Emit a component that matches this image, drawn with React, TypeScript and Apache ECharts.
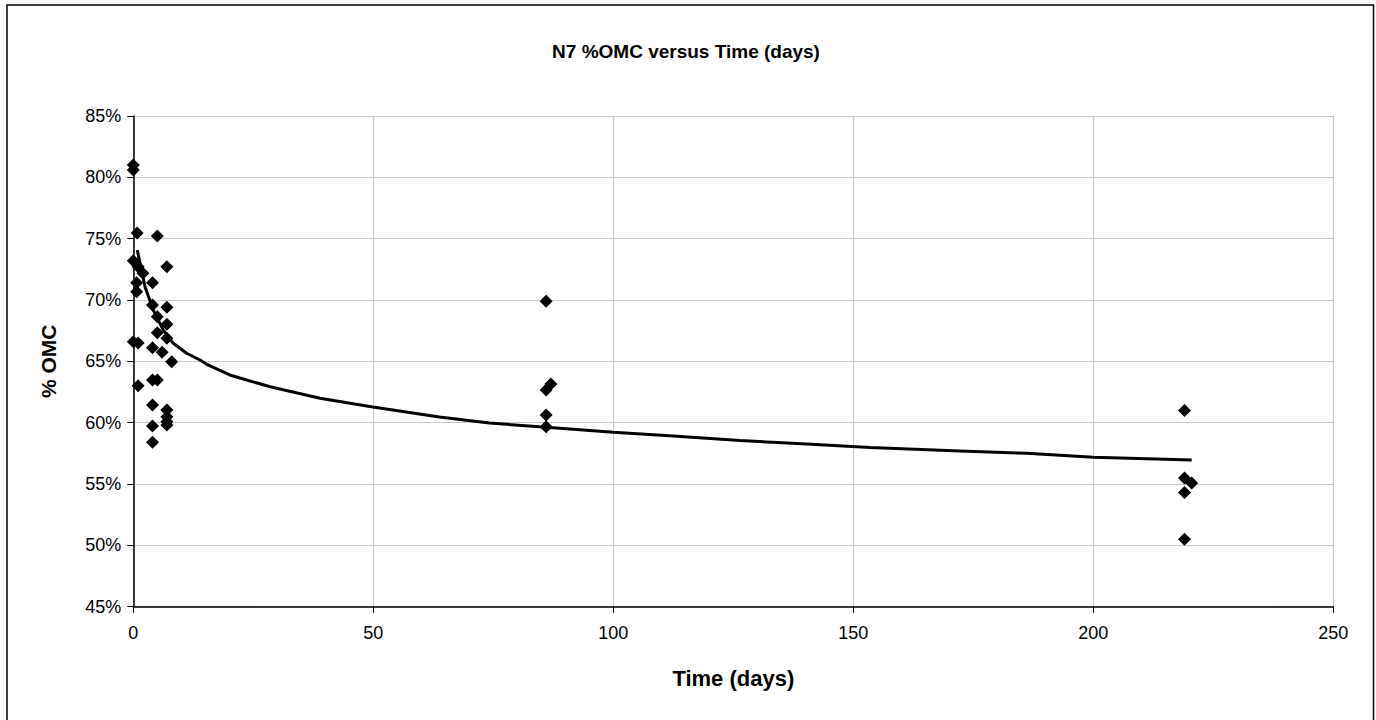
import React, { useEffect, useRef } from "react";
import * as echarts from "echarts";

// Measured points: time (days) and %OMC
const timeDays = [
  0, 0, 0.8, 5, 0, 1, 2, 7, 0.7, 4, 0.7, 4, 7, 5, 7, 5, 7, 0, 1, 4, 6, 8, 1, 4, 5, 4, 7, 7, 7, 7, 4, 4,
  86, 86, 87, 86, 86,
  219, 219, 220.5, 219, 219,
];
const omcPct = [
  81.0, 80.6, 75.46, 75.22, 73.2, 72.71, 72.18, 72.71, 71.41, 71.41, 70.68, 69.59, 69.4, 68.64, 68.02, 67.33,
  66.88, 66.6, 66.5, 66.11, 65.74, 64.97, 63.02, 63.48, 63.48, 61.44, 61.04, 60.49, 60.08, 59.81, 59.73, 58.4,
  69.9, 62.67, 63.16, 60.63, 59.67,
  61.0, 55.5, 55.08, 54.3, 50.5,
];

// Trend line
const fitX = [0.83, 2.44, 4.17, 6.25, 8.33, 11.1, 13.9, 15.3, 20.1, 23.6, 28.5, 38.9, 49.9, 63.75, 74.2, 84.6, 100, 112.5, 126.4, 140.3, 153.5, 172.2, 186.1, 200, 220.5];
const fitY = [74.07, 71.08, 69.18, 67.55, 66.47, 65.66, 65.11, 64.76, 63.89, 63.48, 62.93, 61.99, 61.28, 60.47, 59.98, 59.66, 59.22, 58.92, 58.54, 58.27, 57.97, 57.7, 57.5, 57.18, 56.96];

const xTicks = [0, 50, 100, 150, 200, 250];
const yTicksPct = [45, 50, 55, 60, 65, 70, 75, 80, 85];

const titleText = "N7 %OMC versus Time (days)";
const xName = "Time (days)";
const yName = "% OMC";

export default function App() {
  const ref = useRef<HTMLDivElement>(null);
  useEffect(() => {
    document.body.style.margin = "0";
    const chart = echarts.init(ref.current!, null, { renderer: "svg" });
    const font = "Liberation Sans, Arial, sans-serif";
    chart.setOption({
      animation: false,
      backgroundColor: "#ffffff",
      title: {
        text: titleText,
        left: 681,
        top: 37,
        textAlign: "center",
        textStyle: { fontFamily: font, fontSize: 19, fontWeight: "bold", color: "#000" },
      },
      grid: { left: 133.3, right: 42.7, top: 116, bottom: 113.3, show: false },
      xAxis: {
        type: "value",
        min: xTicks[0],
        max: xTicks[xTicks.length - 1],
        interval: 50,
        name: xName,
        nameLocation: "middle",
        nameGap: 61,
        nameTextStyle: { fontFamily: font, fontSize: 22, fontWeight: "bold", color: "#000" },
        axisLine: { show: true, onZero: false, lineStyle: { color: "#000", width: 1.5 } },
        axisTick: { show: true, inside: false, length: 6, lineStyle: { color: "#000" } },
        axisLabel: { fontFamily: font, fontSize: 18, color: "#000", margin: 17 },
        splitLine: { show: true, lineStyle: { color: "#c8c8c8", width: 1 } },
      },
      yAxis: {
        type: "value",
        min: yTicksPct[0],
        max: yTicksPct[yTicksPct.length - 1],
        interval: 5,
        name: yName,
        nameLocation: "middle",
        nameGap: 74,
        nameTextStyle: { fontFamily: font, fontSize: 21, fontWeight: "bold", color: "#000" },
        axisLine: { show: true, onZero: false, lineStyle: { color: "#000", width: 1.5 } },
        axisTick: { show: true, inside: false, length: 6, lineStyle: { color: "#000" } },
        axisLabel: { fontFamily: font, fontSize: 18, color: "#000", margin: 12, formatter: (v: number) => `${v}%` },
        splitLine: { show: true, lineStyle: { color: "#c8c8c8", width: 1 } },
      },
      graphic: [
        {
          type: "rect",
          shape: { x: 7, y: 5, width: 1366.5, height: 730 },
          style: { fill: "none", stroke: "#000", lineWidth: 1.5 },
          silent: true,
        },
        {
          type: "line",
          shape: { x1: 1333.3, y1: 116, x2: 1333.3, y2: 606.7 },
          style: { stroke: "#c8c8c8", lineWidth: 1 },
          silent: true,
        },
      ],
      series: [
        {
          type: "line",
          data: fitX.map((x, i) => [x, fitY[i]]),
          showSymbol: false,
          symbol: "none",
          lineStyle: { color: "#000", width: 3 },
          z: 3,
        },
        {
          type: "scatter",
          data: timeDays.map((x, i) => [x, omcPct[i]]),
          symbol: "diamond",
          symbolSize: 13,
          itemStyle: { color: "#000", opacity: 1 },
          z: 4,
        },
      ],
    });
    return () => chart.dispose();
  }, []);
  return <div ref={ref} style={{ position: "absolute", left: 0, top: 0, width: 1376, height: 720 }} />;
}
